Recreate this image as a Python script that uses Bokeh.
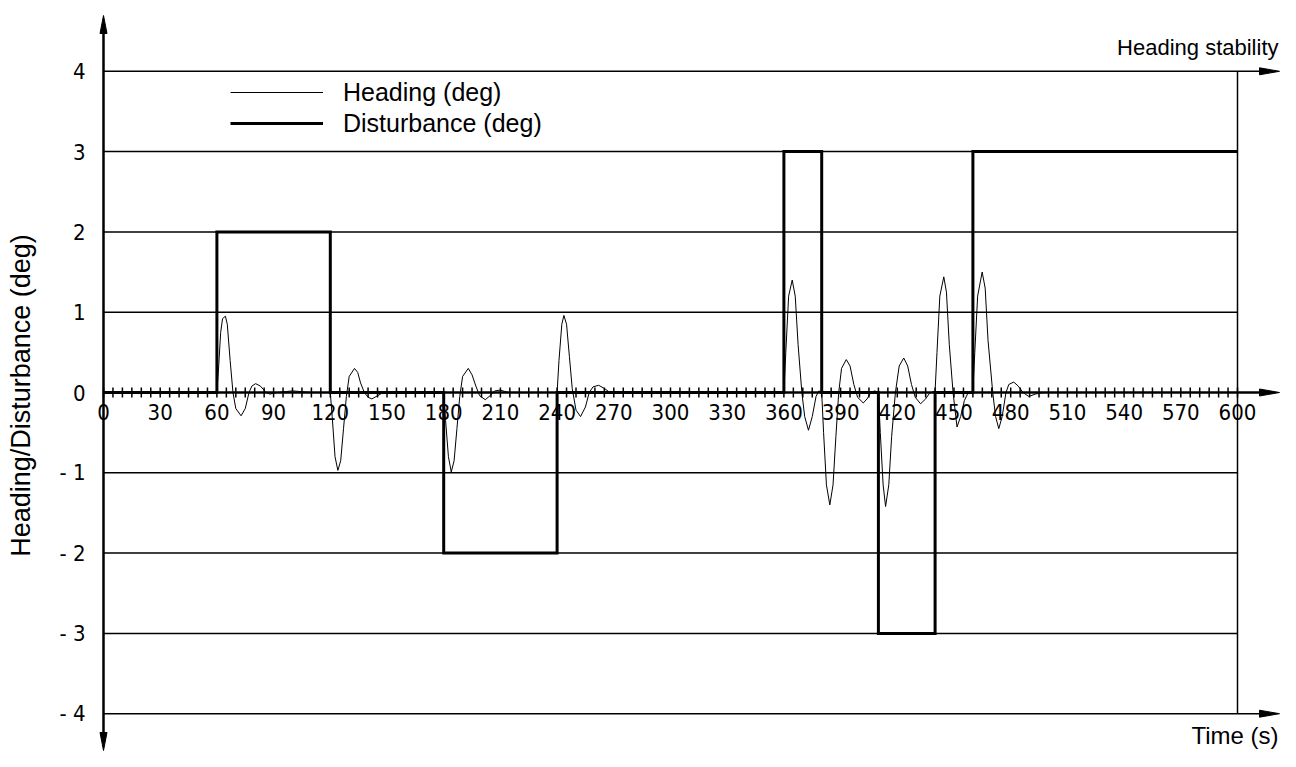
import numpy as np
from bokeh.plotting import figure
from bokeh.models import Range1d, Legend, LegendItem
from bokeh.core.properties import value
from bokeh.embed import file_html
from bokeh.resources import INLINE

# ---------------- data ----------------
heading_time = [0, 60, 61, 62, 63, 64.5, 65.5, 67, 68.5, 70, 72.8, 75, 77, 78.5, 80.5, 83, 86, 88, 92, 100, 110, 120,
                121, 122.5, 124, 125.5, 127, 128.5, 130, 132.8, 134.5, 136, 138, 140, 142, 145, 148, 160, 180,
                181, 182.5, 184, 185.5, 187, 188.5, 190, 193, 195, 197, 199, 202, 205, 207, 210, 214, 240,
                241, 242.5, 243.6, 245, 246.5, 248, 250, 252.4, 255, 257, 259, 262, 265, 268, 275, 360,
                361, 362.5, 364.4, 366, 367.5, 369.5, 371, 373, 375, 377, 378.5, 380,
                381, 382.5, 384.3, 386, 387.5, 389, 390.5, 393, 395, 397, 399, 402, 404, 406, 408, 410,
                411, 412.5, 413.8, 415.5, 417, 419, 421, 423.4, 425.5, 427.5, 429.5, 432.3, 435, 437, 440,
                441, 442.5, 444.6, 446, 447.5, 449.5, 451.6, 453.5, 455.5, 457.5, 460,
                461, 462.5, 464.9, 466.5, 468, 470.5, 472, 473.7, 475.5, 477.5, 479, 481.6, 484, 486.5, 489.6, 493, 497, 600]
heading_deg = [0, 0, 0.35, 0.75, 0.92, 0.95, 0.85, 0.4, 0.0, -0.2, -0.29, -0.2, 0.0, 0.08, 0.11, 0.08, 0.0, -0.02, 0.0, 0.02, 0.0, 0.0,
               -0.3, -0.8, -0.97, -0.85, -0.45, -0.05, 0.2, 0.30, 0.25, 0.12, 0.0, -0.06, -0.08, -0.04, 0.0, 0.01, 0.0,
               -0.35, -0.8, -0.99, -0.85, -0.45, -0.05, 0.2, 0.30, 0.22, 0.08, -0.04, -0.09, -0.03, 0.02, 0.03, 0.0, 0.0,
               0.4, 0.85, 0.96, 0.85, 0.45, 0.05, -0.22, -0.30, -0.18, 0.0, 0.07, 0.09, 0.05, 0.0, 0.0, 0.0,
               0.5, 1.2, 1.40, 1.2, 0.6, 0.0, -0.3, -0.47, -0.3, -0.05, 0.02, 0.0,
               -0.5, -1.15, -1.40, -1.15, -0.55, 0.0, 0.3, 0.41, 0.33, 0.1, -0.06, -0.13, -0.08, 0.0, 0.02, 0.0,
               -0.5, -1.15, -1.42, -1.15, -0.55, 0.0, 0.33, 0.43, 0.33, 0.1, -0.06, -0.14, -0.08, -0.01, 0.02,
               0.5, 1.2, 1.44, 1.25, 0.6, 0.0, -0.43, -0.3, -0.1, 0.0, 0.02,
               0.5, 1.2, 1.50, 1.3, 0.65, 0.0, -0.3, -0.45, -0.3, 0.0, 0.1, 0.13, 0.08, 0.0, -0.05, -0.02, 0.0, 0.0]

disturbance_time = [0, 60, 120, 180, 240, 360, 380, 410, 440, 460, 600]
disturbance_deg = [0, 2, 0, -2, 0, 3, 0, -3, 0, 3, 3]

x_tick_values = list(range(0, 601, 30))
x_tick_labels = [str(v) for v in x_tick_values]
x_minor_step = 5
y_tick_values = [4, 3, 2, 1, 0, -1, -2, -3, -4]
y_tick_labels = ["4", "3", "2", "1", "0", "- 1", "- 2", "- 3", "- 4"]

# ---------------- geometry ----------------
W, H = 1280, 751
X0_PX, X600_PX = 103.0, 1237.0
SX = (X600_PX - X0_PX) / 600.0
Y0_PX = 392.0
SY = 80.3
x_start, x_end = -X0_PX / SX, (W - X0_PX) / SX
y_end, y_start = Y0_PX / SY, -(H - Y0_PX) / SY

ISO_FONT = value("DejaVu Sans Condensed, Roboto, sans-serif")
SANS = value("Liberation Sans")

p = figure(width=W, height=H, x_range=Range1d(x_start, x_end), y_range=Range1d(y_start, y_end),
           output_backend="svg", toolbar_location=None, x_axis_location=None, y_axis_location=None,
           min_border=0, outline_line_color=None, background_fill_color="white",
           border_fill_color="white")
p.grid.visible = False

# arrow dimensions (px)
H_TIP_X = (W - 1 - X0_PX) / SX
H_LEN = 20 / SX
H_HALF = 3.5 / SY
V_TOP = (Y0_PX - 15) / SY
V_BOT = (Y0_PX - (H - 1)) / SY
V_LEN = 18 / SY
V_HALF = 3.5 / SX

# horizontal lines
arrow_levels = [4, 0, -4]
x1s = [H_TIP_X - H_LEN if y in arrow_levels else 600 for y in y_tick_values]
lws = [2.5 if y == 0 else 1.5 for y in y_tick_values]
p.segment(x0=[0] * len(y_tick_values), y0=y_tick_values, x1=x1s, y1=y_tick_values,
          line_color="black", line_width=lws)
# vertical line at end of time axis
p.segment(x0=[600], y0=[-4], x1=[600], y1=[4], line_color="black", line_width=1.5)
# y axis line
p.segment(x0=[0], y0=[V_BOT + V_LEN], x1=[0], y1=[V_TOP - V_LEN], line_color="black", line_width=2.5)

# arrowheads
xs, ys = [], []
for y in arrow_levels:
    xs.append([H_TIP_X - H_LEN, H_TIP_X, H_TIP_X - H_LEN])
    ys.append([y + H_HALF, y, y - H_HALF])
xs.append([-V_HALF, 0, V_HALF]); ys.append([V_TOP - V_LEN, V_TOP, V_TOP - V_LEN])
xs.append([-V_HALF, 0, V_HALF]); ys.append([V_BOT + V_LEN, V_BOT, V_BOT + V_LEN])
p.patches(xs, ys, fill_color="black", line_color="black", line_width=1)

# minor ticks
minor = list(range(0, 601, x_minor_step))
p.scatter(x=minor, y=[0] * len(minor), marker="dash", angle=np.pi / 2, size=10,
          line_color="black", line_width=1.5)

# tick labels
p.text(x=x_tick_values, y=[0] * len(x_tick_values), text=x_tick_labels, y_offset=19,
       text_align="center", text_baseline="middle", text_font=ISO_FONT,
       text_font_size="22px", text_color="black")
p.text(x=[0] * len(y_tick_values), y=y_tick_values, text=y_tick_labels, x_offset=-18,
       text_align="right", text_baseline="middle", text_font=ISO_FONT,
       text_font_size="22px", text_color="black")

# data series
r_dist = p.step(disturbance_time, disturbance_deg, mode="after", line_color="black",
                line_width=3, line_join="miter")
r_head = p.line(heading_time, heading_deg, line_color="black", line_width=1, line_join="round")

# titles
p.text(x=[x_end], y=[4], text=["Heading stability"], x_offset=-2, y_offset=-24,
       text_align="right", text_baseline="middle", text_font=SANS, text_font_size="22px")
p.text(x=[x_end], y=[-4], text=["Time (s)"], x_offset=-2, y_offset=22,
       text_align="right", text_baseline="middle", text_font=SANS, text_font_size="24px")
p.text(x=[x_start], y=[0], text=["Heading/Disturbance (deg)"], x_offset=20, y_offset=3,
       angle=np.pi / 2, text_align="center", text_baseline="middle", text_font=SANS,
       text_font_size="27px")

# legend: one entry per box so each row sits at its own height
ROW_H = 30
legend_rows = [("Heading (deg)", r_head, 92), ("Disturbance (deg)", r_dist, 123)]
for label, rend, center_px in legend_rows:
    lg = Legend(items=[LegendItem(label=label, renderers=[rend])],
                location=(230, H - (center_px + ROW_H // 2)), glyph_width=93,
                glyph_height=ROW_H, label_height=ROW_H, spacing=0, padding=0, margin=0,
                label_standoff=20, border_line_color=None, background_fill_alpha=0,
                label_text_font="Liberation Sans", label_text_font_size="25px",
                label_text_baseline="middle", label_text_color="black")
    p.add_layout(lg)

open("out.html", "w").write(file_html(p, INLINE))
